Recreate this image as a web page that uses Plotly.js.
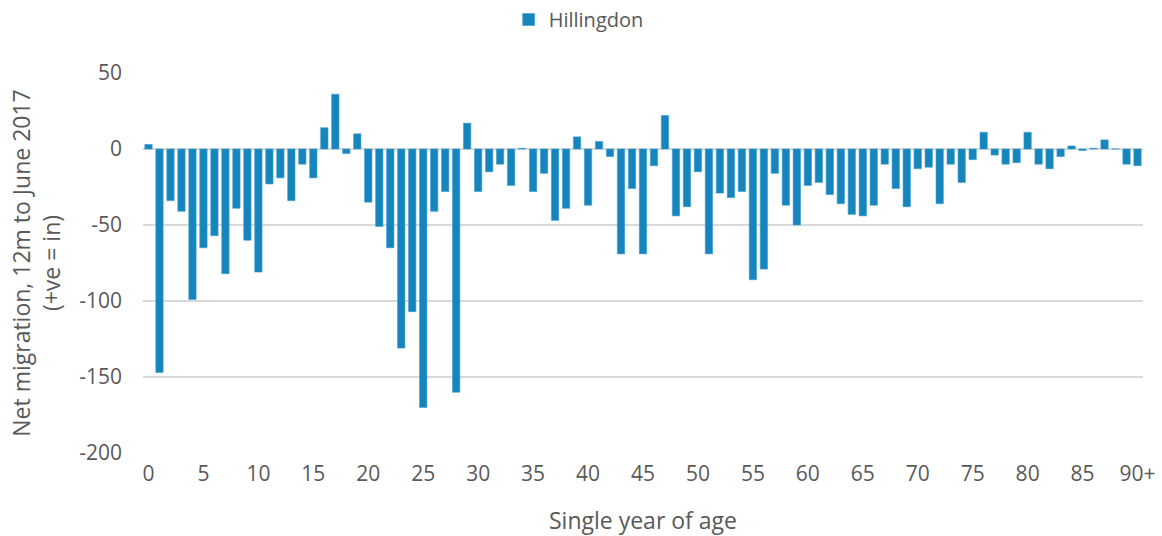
<!DOCTYPE html>
<html>
<head>
<meta charset="utf-8">
<script src="https://cdn.plot.ly/plotly-3.0.1.min.js"></script>
<style>html,body{margin:0;padding:0;background:#fff;}#chart{width:1162px;height:536px;}</style>
</head>
<body>
<div id="chart"></div>
<script>
const seriesName = "Hillingdon";
const ages = [];
for (let i = 0; i < 90; i++) ages.push(String(i));
ages.push("90+");
const netMigration = [
  3, -147, -34, -41, -99, -65, -57, -82, -39, -60,
  -81, -23, -19, -34, -10, -19, 14, 36, -3, 10,
  -35, -51, -65, -131, -107, -170, -41, -28, -160, 17,
  -28, -15, -10, -24, 0.5, -28, -16, -47, -39, 8,
  -37, 5, -5, -69, -26, -69, -11, 22, -44, -38,
  -15, -69, -29, -32, -28, -86, -79, -16, -37, -50,
  -24, -22, -30, -36, -43, -44, -37, -10, -26, -38,
  -13, -12, -36, -10, -22, -7, 11, -4, -10, -9,
  11, -10, -13, -5, 2, -1, 0.5, 6, 0, -10,
  -11
];
const tickLabels = ["0","5","10","15","20","25","30","35","40","45","50","55","60","65","70","75","80","85","90+"];
const yTicks = [-200, -150, -100, -50, 0, 50];

const font = "Open Sans, Noto Sans, sans-serif";
const textColor = "#595959";
const gridColor = "#d9d9d9";

const trace = {
  type: "bar",
  x: ages,
  y: netMigration,
  name: seriesName,
  marker: { color: "#1785bd", line: { color: "#3c9fd0", width: 0.6 } },
  showlegend: true
};

const layout = {
  width: 1162,
  height: 536,
  margin: { l: 143, r: 19, t: 73, b: 83 },
  paper_bgcolor: "#ffffff",
  plot_bgcolor: "#ffffff",
  font: { family: font, size: 20, color: textColor },
  bargap: 0.33,
  showlegend: true,
  legend: {
    orientation: "h",
    xref: "container",
    yref: "container",
    x: 0.498,
    xanchor: "center",
    y: 1,
    yanchor: "top",
    font: { family: font, size: 20, color: textColor },
    itemwidth: 30
  },
  xaxis: {
    type: "category",
    tickmode: "array",
    tickvals: tickLabels,
    ticktext: tickLabels,
    tickangle: 0,
    showgrid: false,
    showline: false,
    ticks: "",
    ticklabelstandoff: 6,
    tickfont: { family: font, size: 21, color: textColor },
    title: { text: "Single year of age", font: { family: font, size: 23, color: textColor }, standoff: 29 }
  },
  yaxis: {
    range: [-200, 50],
    tickmode: "array",
    tickvals: yTicks,
    ticktext: yTicks.map(String),
    showgrid: true,
    gridcolor: gridColor,
    gridwidth: 1.3,
    zeroline: true,
    zerolinecolor: gridColor,
    zerolinewidth: 1.3,
    showline: false,
    ticks: "",
    ticklabelstandoff: 20,
    tickfont: { family: font, size: 21, color: textColor },
    title: { text: "Net migration, 12m to June 2017<br>(+ve = in)", font: { family: font, size: 23, color: textColor }, standoff: 12 }
  }
};

Plotly.newPlot("chart", [trace], layout, { displayModeBar: false, staticPlot: true });
</script>
</body>
</html>
